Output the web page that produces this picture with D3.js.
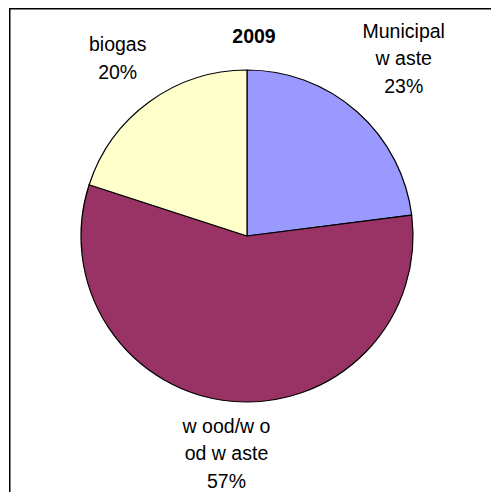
<!DOCTYPE html>
<html>
<head>
<meta charset="utf-8">
<script src="https://cdn.jsdelivr.net/npm/d3@7"></script>
<style>
  html, body { margin: 0; padding: 0; background: #fff; }
  svg { display: block; }
  text { font-family: "Liberation Sans", Arial, sans-serif; fill: #000; }
</style>
</head>
<body>
<svg id="chart" width="491" height="492"></svg>
<script>
// ---- data ----
const title = "2009";
const categories = ["Municipal waste", "wood/wood waste", "biogas"];
const values = [23, 57, 20];
const labelLines = [
  ["Municipal", "w aste", "23%"],
  ["w ood/w o", "od w aste", "57%"],
  ["biogas", "20%"]
];
const colors = ["#9999FF", "#993366", "#FFFFCC"];

// ---- layout ----
const svg = d3.select("#chart");
const cx = 247, cy = 236, r = 166;
const labelRadius = { "Municipal waste": 237, "wood/wood waste": 218, "biogas": 220 };
const lineH = 27.5;

// chart border
svg.append("rect")
  .attr("x", 9.75).attr("y", 8.75)
  .attr("width", 520).attr("height", 520)
  .attr("fill", "none").attr("stroke", "#000").attr("stroke-width", 1.5);

const data = categories.map((c, i) => ({ cat: c, value: values[i], i }));

const pie = d3.pie().value(d => d.value).sort(null)
  .startAngle(0).endAngle(2 * Math.PI);
const arcs = pie(data);
const arc = d3.arc().innerRadius(0).outerRadius(r);

const g = svg.append("g").attr("transform", `translate(${cx},${cy})`);
g.selectAll("path.slice").data(arcs).enter().append("path")
  .attr("class", "slice")
  .attr("d", arc)
  .attr("fill", d => colors[d.data.i])
  .attr("stroke", "#000")
  .attr("stroke-width", 1.2)
  .attr("stroke-linejoin", "round");

// labels
arcs.forEach(a => {
  const mid = (a.startAngle + a.endAngle) / 2;
  const lr = labelRadius[a.data.cat];
  const x = lr * Math.sin(mid);
  const y = -lr * Math.cos(mid);
  const lines = labelLines[a.data.i];
  const t = g.append("text")
    .attr("text-anchor", "middle")
    .attr("font-size", "19.5px");
  lines.forEach((ln, k) => {
    t.append("tspan")
      .attr("x", x)
      .attr("y", y + (k - (lines.length - 1) / 2) * lineH)
      .attr("dominant-baseline", "central")
      .text(ln);
  });
});

// title
svg.append("text")
  .attr("x", 254).attr("y", 43)
  .attr("text-anchor", "middle")
  .attr("font-size", "19.5px")
  .attr("font-weight", "bold")
  .text(title);
</script>
</body>
</html>
